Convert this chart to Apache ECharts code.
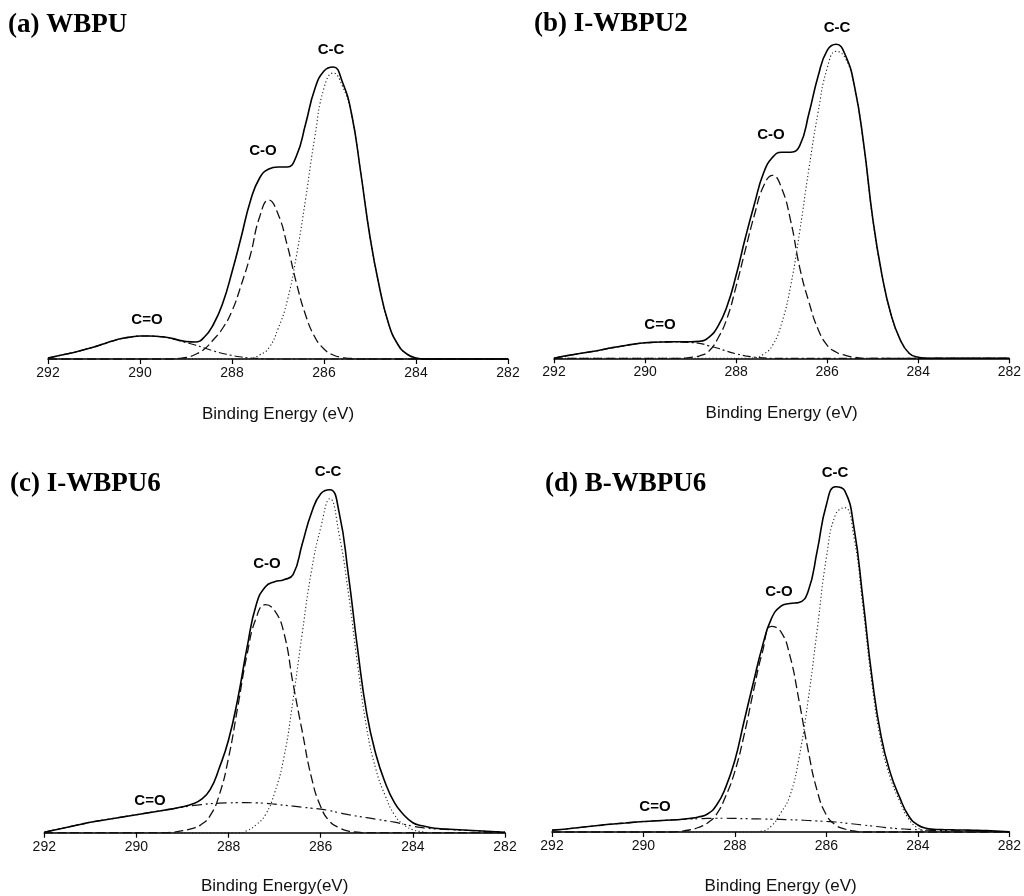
<!DOCTYPE html>
<html>
<head>
<meta charset="utf-8">
<script src="https://cdn.jsdelivr.net/npm/echarts@6/dist/echarts.min.js"></script>
<style>
html,body{margin:0;padding:0;background:#fff;}
#chart{width:1024px;height:896px;}
</style>
</head>
<body>
<div id="chart"></div>
<script>
// Binding energy grid (eV), shared by all panels
const energy = [292.0,291.8,291.6,291.4,291.2,291.0,290.8,290.6,290.4,290.2,
  290.0,289.8,289.6,289.4,289.2,289.0,288.8,288.6,288.4,288.2,
  288.0,287.8,287.6,287.4,287.2,287.0,286.8,286.6,286.4,286.2,
  286.0,285.8,285.6,285.4,285.2,285.0,284.8,284.6,284.4,284.2,
  284.0,283.8,283.6,283.4,283.2,283.0,282.8,282.6,282.4,282.2,282.0];
const xTicks = [292, 290, 288, 286, 284, 282];

// Panel titles and axis names
const panelTitles = ['(a) WBPU', '(b) I-WBPU2', '(c) I-WBPU6', '(d) B-WBPU6'];
const axisNames = ['Binding Energy (eV)', 'Binding Energy (eV)', 'Binding Energy(eV)', 'Binding Energy (eV)'];
const peakNames = ['C-C', 'C-O', 'C=O'];

// (a) WBPU — intensity (a.u.)
const envA = [1,3,5,7,9.5,12,15,18,20.5,22,23,23,22.5,21.5,19.5,17.5,17,22,35,56,
  87,122,158,181,190,192,192,203,235,270,288,292,277,245,186,122,73,36,15,5,1,0,0,0,0,0,0,0,0,0,0];
const cdoA = [1,3,5,7,9.5,12,15,18,20.5,22,23,23,22.5,21.5,19,16.5,14,11,8,5.5,
  3.5,2,1,0.5,0,0,0,0,0,0,0,0,0,0,0,0,0,0,0,0,0,0,0,0,0,0,0,0,0,0,0];
const coA = [0,0,0,0,0,0,0,0,0,0,0,0,0,0,0.5,1.5,4.5,10,19.5,31,
  48,74,104,142,159,145,114,76,44,22,10,4,1.5,0.5,0,0,0,0,0,0,0,0,0,0,0,0,0,0,0,0,0];
const ccA = [0,0,0,0,0,0,0,0,0,0,0,0,0,0,0,0,0,0,0,0,
  0,0,0.5,4,11,30,58,103,160,222,271,286,273,244,186,122,73,36,15,5,1,0,0,0,0,0,0,0,0,0,0];

// (b) I-WBPU2
const envB = [0,2,3.5,5,6.5,8,10,11.5,13,14.5,15.5,16,16.3,16.5,16.5,16.5,17,21,32,52,
  83,120,154,185,201,206,206,213,245,282,308,314,303,272,215,140,84,44,19,5,1,0,0,0,0,0,0,0,0,0,0];
const cdoB = [0,2,3.5,5,6.5,8,10,11.5,13,14.5,15.5,16,16.2,16.3,16.2,15.8,15,12.5,10,7,
  4.5,2.5,1.2,0.5,0,0,0,0,0,0,0,0,0,0,0,0,0,0,0,0,0,0,0,0,0,0,0,0,0,0,0];
const coB = [0,0,0,0,0,0,0,0,0,0,0,0,0,0,0,1,2.5,7,20,40,
  72,108,143,172,183,170,137,90,56,29,13,6,3,1,0,0,0,0,0,0,0,0,0,0,0,0,0,0,0,0,0];
const ccB = [0,0,0,0,0,0,0,0,0,0,0,0,0,0,0,0,0,0,0,0,
  0,0,0.5,4,13,35,73,128,190,246,290,307,300,271,214,139,84,44,19,5,1,0,0,0,0,0,0,0,0,0,0];

// (c) I-WBPU6
const envC = [0.5,2.5,4.5,6.5,8.5,10.5,12,13.5,15,16.5,18,19.5,21,22.5,24,26,28.5,33,43,65,
  93,134,185,228,246,251,253,258,289,320,339,343,320,258,184,119,78,50,30,18,10,7,5,4,3.5,3,2.5,2,1.5,1,0.5];
const cdoC = [0.5,2.5,4.5,6.5,8.5,10.5,12,13.5,15,16.5,18,19.5,21,22.5,24,25.5,27,28,29,29.5,
  29.8,30,30,29.8,29.5,28.5,27.5,26.5,25.5,24.5,23.5,22,20,18,16.5,15,13.5,12,10.5,8.5,6.5,5,4,3.5,3,2.6,2.2,1.8,1.4,1,0.5];
const coC = [0,0,0,0,0,0,0,0,0,0,0,0,0,0,0.5,2,4,8,17,38,
  75,126,178,215,228,222,200,149,101,55,26,11,5,1.5,0.5,0,0,0,0,0,0,0,0,0,0,0,0,0,0,0,0];
const ccC = [0,0,0,0,0,0,0,0,0,0,0,0,0,0,0,0,0,0,0,0,
  0,0,2,8,18,40,75,133,200,262,305,334,298,240,168,104,63,37,18,8,3,1,0,0,0,0,0,0,0,0,0];

// (d) B-WBPU6
const envD = [2,2.5,3.5,4.5,5.5,6.5,7.5,8.3,9,9.8,10.5,11,11.5,12,12.5,13.5,15,18,27,45,
  72,111,149,186,214,226,229,230,241,282,328,346,342,306,233,154,95,59,35,16,7,3.5,2.5,2.3,2.1,2,1.8,1.5,1.2,0.8,0.3];
const cdoD = [1.5,2.5,3.5,4.5,5.5,6.5,7.5,8.3,9,9.8,10.5,11,11.5,12,12.5,13,13.3,13.6,13.8,13.8,
  13.6,13.4,13.2,13,12.8,12.6,12.3,12,11.5,11,10.5,10,9,8,7,6,5,4,3.3,2.7,2.2,1.8,1.5,1.3,1.1,1,0.9,0.8,0.6,0.4,0.2];
const coD = [0,0,0,0,0,0,0,0,0,0,0,0,0,0,0.7,2,4.5,9,18,36,
  61,97,140,180,206,201,177,132,82,41,17,7,3,1,0,0,0,0,0,0,0,0,0,0,0,0,0,0,0,0,0];
const ccD = [0,0,0,0,0,0,0,0,0,0,0,0,0,0,0,0,0,0,0,0,
  0,0,0,1,6,19,36,74,132,203,275,318,325,296,225,147,89,54,31,13,4,1,0,0,0,0,0,0,0,0,0];

const panels = [
  {env: envA, cdo: cdoA, co: coA, cc: ccA},
  {env: envB, cdo: cdoB, co: coB, cc: ccB},
  {env: envC, cdo: cdoC, co: coC, cc: ccC},
  {env: envD, cdo: cdoD, co: coD, cc: ccD}
];

// ---------- layout / style (not data) ----------
const grids = [
  {left: 48, top: 9, width: 460, height: 350},
  {left: 554, top: 8.3, width: 459.5, height: 350},
  {left: 44.3, top: 482.7, width: 460.7, height: 350},
  {left: 552, top: 482.7, width: 459.3, height: 350}
];
const nameGaps = [47, 47, 45, 46];
const cdoDash = [[8,3,2,3],[8,3,2,3],[10,4,2,3,2,4],[10,4,2,3,2,4]];
const titlePos = [[8,25],[534,24],[10,484],[545,484]];
const labelPos = [
  [[331,50],[263,151],[147,320]],
  [[837,28],[771,135],[660,325]],
  [[328,472],[267,564],[150,801]],
  [[835,473],[779,592],[655,807]]
];

function pairs(vals){ return energy.map((e,i)=>[e, vals[i]]); }

const xAxes = [], yAxes = [], series = [], graphics = [];
grids.forEach((g, k) => {
  xAxes.push({
    gridIndex: k, type: 'value', min: 282, max: 292, interval: 2, inverse: true,
    axisLine: {show: true, lineStyle: {color: '#000', width: 1.6}},
    axisTick: {show: true, inside: false, length: 5, lineStyle: {color: '#000', width: 1.2}},
    axisLabel: {fontSize: 14, color: '#111', fontFamily: 'Liberation Sans, Arial, sans-serif', margin: 7},
    splitLine: {show: false},
    name: axisNames[k], nameLocation: 'middle', nameGap: nameGaps[k],
    nameTextStyle: {fontSize: 17, color: '#111', fontFamily: 'Liberation Sans, Arial, sans-serif'}
  });
  yAxes.push({gridIndex: k, type: 'value', min: 0, max: 350, show: false});
  const p = panels[k];
  const common = {type: 'line', xAxisIndex: k, yAxisIndex: k, showSymbol: false, symbol: 'none',
    smooth: 0.5, clip: false, silent: true, animation: false};
  series.push(Object.assign({}, common, {name: 'C=O', data: pairs(p.cdo), z: 2,
    lineStyle: {color: '#111', width: 1.2, type: cdoDash[k]}}));
  series.push(Object.assign({}, common, {name: 'C-C', data: pairs(p.cc), z: 3,
    lineStyle: {color: '#222', width: 1.1, type: [1.2, 2.4]}}));
  series.push(Object.assign({}, common, {name: 'C-O', data: pairs(p.co), z: 4,
    lineStyle: {color: '#111', width: 1.3, type: [9, 4]}}));
  series.push(Object.assign({}, common, {name: 'envelope', data: pairs(p.env), z: 5,
    lineStyle: {color: '#000', width: 1.6, type: 'solid'}}));

  graphics.push({type: 'text', x: titlePos[k][0], y: titlePos[k][1], silent: true,
    style: {text: panelTitles[k], fill: '#000', textAlign: 'left', textVerticalAlign: 'middle',
      font: 'bold 27px "Liberation Serif", "Times New Roman", serif'}});
  peakNames.forEach((nm, j) => {
    graphics.push({type: 'text', x: labelPos[k][j][0], y: labelPos[k][j][1], silent: true,
      style: {text: nm, fill: '#000', textAlign: 'center', textVerticalAlign: 'middle',
        font: 'bold 15px "Liberation Sans", Arial, sans-serif'}});
  });
});

const chart = echarts.init(document.getElementById('chart'), null, {renderer: 'canvas'});
chart.setOption({
  backgroundColor: '#fff',
  animation: false,
  grid: grids,
  xAxis: xAxes,
  yAxis: yAxes,
  series: series,
  graphic: graphics
});
</script>
</body>
</html>
